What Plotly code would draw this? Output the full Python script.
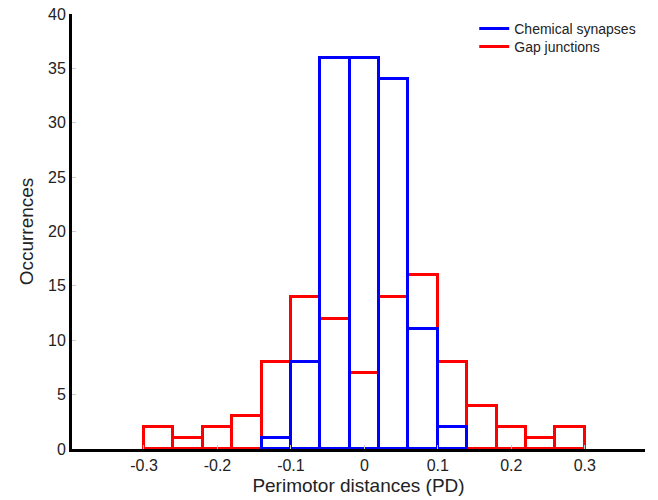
import plotly.graph_objects as go

bin_centers = [-0.28, -0.24, -0.20, -0.16, -0.12, -0.08, -0.04, 0.0,
               0.04, 0.08, 0.12, 0.16, 0.20, 0.24, 0.28]
gap_junctions = [2, 1, 2, 3, 8, 14, 12, 7, 14, 16, 8, 4, 2, 1, 2]
chemical_synapses = [0, 0, 0, 0, 1, 8, 36, 36, 34, 11, 2, 0, 0, 0, 0]
bin_width = 0.04

tick_vals = [-0.3, -0.2, -0.1, 0, 0.1, 0.2, 0.3]
tick_text = ["-0.3", "-0.2", "-0.1", "0", "0.1", "0.2", "0.3"]
y_ticks = [0, 5, 10, 15, 20, 25, 30, 35, 40]

BLUE = "#0000ff"
RED = "#ff0000"

fig = go.Figure()
fig.add_trace(go.Bar(
    x=bin_centers, y=gap_junctions, width=bin_width,
    marker=dict(color="rgba(0,0,0,0)", line=dict(color=RED, width=3)),
    showlegend=False,
))
fig.add_trace(go.Bar(
    x=bin_centers, y=[v if v > 0 else None for v in chemical_synapses], width=bin_width,
    marker=dict(color="rgba(0,0,0,0)", line=dict(color=BLUE, width=3)),
    showlegend=False,
))
# legend entries as line samples
fig.add_trace(go.Scatter(x=[None], y=[None], mode="lines", name="Chemical synapses",
                         line=dict(color=BLUE, width=3), legend="legend"))
fig.add_trace(go.Scatter(x=[None], y=[None], mode="lines", name="Gap junctions",
                         line=dict(color=RED, width=3), legend="legend2"))

leg_common = dict(x=0.702, xanchor="left", yanchor="top", yref="container",
                  font=dict(size=14, color="#222222"), bgcolor="rgba(0,0,0,0)",
                  itemwidth=30)

fig.update_layout(
    width=658, height=500,
    margin=dict(l=72, r=13, t=14, b=51, autoexpand=False),
    barmode="overlay", bargap=0,
    plot_bgcolor="white", paper_bgcolor="white",
    font=dict(family="Liberation Sans, Arial, sans-serif", color="#222222"),
    legend=dict(y=0.974, **leg_common),
    legend2=dict(y=0.938, **leg_common),
    xaxis=dict(range=[-0.398, 0.382], tickvals=tick_vals, ticktext=tick_text,
               showgrid=False, zeroline=False, showline=True, linecolor="black",
               linewidth=3, ticks="inside", ticklen=4, tickcolor="#cccccc",
               tickfont=dict(size=16), automargin=False,
               title=dict(text="Perimotor distances (PD)", font=dict(size=19), standoff=6)),
    yaxis=dict(range=[0, 40], tickvals=y_ticks, showgrid=False, zeroline=False,
               showline=True, linecolor="black", linewidth=3, ticks="inside",
               ticklen=4, tickcolor="#cccccc", tickfont=dict(size=16), automargin=False,
               title=dict(text="Occurrences", font=dict(size=19), standoff=10)),
)

fig.write_html("out.html")
